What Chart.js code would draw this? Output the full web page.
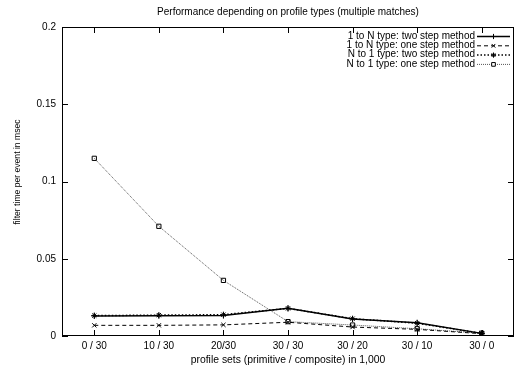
<!DOCTYPE html>
<html lang="en">
<head>
    <meta charset="UTF-8">
    <title>Performance depending on profile types</title>
    <script src="https://cdn.jsdelivr.net/npm/chart.js"></script>
    <style>
        html, body { margin: 0; padding: 0; background: #fff; overflow: hidden; }
        .chart-container { position: relative; width: 529px; height: 367px; }
    </style>
</head>
<body>
    <div class="chart-container">
        <canvas id="perfChart" width="529" height="367"></canvas>
    </div>

    <script>
    // Données
    const categories = ['0 / 30', '10 / 30', '20/30', '30 / 30', '30 / 20', '30 / 10', '30 / 0'];
    const oneToNTwoStep = [0.0130, 0.0131, 0.0132, 0.0179, 0.0110, 0.0086, 0.0017];
    const oneToNOneStep = [0.0069, 0.0069, 0.0072, 0.0089, 0.0058, 0.0043, 0.0015];
    const nToOneTwoStep = [0.0132, 0.0135, 0.0138, 0.0179, 0.0112, 0.0083, 0.0017];
    const nToOneOneStep = [0.115, 0.071, 0.036, 0.0093, 0.0071, 0.0047, 0.0018];
    const yTicks = [0, 0.05, 0.1, 0.15, 0.2];
    const yTickLabels = ['0', '0.05', '0.1', '0.15', '0.2'];

    const fontFamily = 'Liberation Sans, Arial, sans-serif';
    const font = { family: fontFamily, size: 10 };

    // Bordure, graduations internes, titres et légende façon gnuplot
    const framePlugin = {
        id: 'frame',
        afterDraw(chart) {
            const ctx = chart.ctx;
            const a = chart.chartArea;
            const sx = chart.scales.x, sy = chart.scales.y;
            ctx.save();
            ctx.strokeStyle = '#000';
            ctx.lineWidth = 1;
            ctx.setLineDash([]);
            ctx.strokeRect(a.left + 0.5, a.top + 0.5, a.right - a.left - 1, a.bottom - a.top - 1);
            ctx.beginPath();
            yTicks.forEach(v => {
                const y = Math.round(sy.getPixelForValue(v)) + 0.5;
                ctx.moveTo(a.left, y); ctx.lineTo(a.left + 6, y);
                ctx.moveTo(a.right, y); ctx.lineTo(a.right - 6, y);
            });
            categories.forEach((c, i) => {
                const x = Math.round(sx.getPixelForValue(i)) + 0.5;
                ctx.moveTo(x, a.bottom); ctx.lineTo(x, a.bottom - 6);
                ctx.moveTo(x, a.top); ctx.lineTo(x, a.top + 6);
            });
            ctx.stroke();

            // titre
            ctx.fillStyle = '#000';
            ctx.font = font.size + 'px ' + fontFamily;
            ctx.textAlign = 'center';
            ctx.textBaseline = 'middle';
            ctx.fillText('Performance depending on profile types (multiple matches)', (a.left + a.right) / 2, 12);

            // titre de l'axe y
            ctx.save();
            ctx.translate(18, 172);
            ctx.rotate(-Math.PI / 2);
            ctx.font = '8.6px ' + fontFamily;
            ctx.fillText('filter time per event in msec', 0, 0);
            ctx.restore();

            // légende
            ctx.font = font.size + 'px ' + fontFamily;
            ctx.textAlign = 'right';
            chart.data.datasets.forEach((ds, i) => {
                const y = 36 + i * 9.3;
                ctx.fillStyle = '#000';
                ctx.fillText(ds.label, a.right - 39, y);
                ctx.save();
                ctx.strokeStyle = ds.borderColor;
                ctx.lineWidth = ds.borderWidth;
                ctx.setLineDash(ds.borderDash || []);
                ctx.beginPath();
                ctx.moveTo(a.right - 37, y + 0.5);
                ctx.lineTo(a.right - 4, y + 0.5);
                ctx.stroke();
                ctx.setLineDash([]);
                ctx.strokeStyle = '#000';
                ctx.fillStyle = '#fff';
                ctx.lineWidth = 1;
                Chart.helpers.drawPoint(ctx, {
                    pointStyle: ds.pointStyle, radius: 2.6, rotation: 0, borderWidth: 1
                }, a.right - 20.5, y + 0.5);
                ctx.restore();
            });
            ctx.restore();
        }
    };

    function serie(label, data, dash, width, color, style) {
        return {
            label: label,
            data: data,
            borderColor: color,
            borderWidth: width,
            borderDash: dash,
            pointStyle: style,
            pointRadius: 3,
            pointBorderColor: '#000',
            pointBackgroundColor: 'rgba(0,0,0,0)',
            pointBorderWidth: 1,
            tension: 0,
            fill: false
        };
    }

    new Chart(document.getElementById('perfChart'), {
        type: 'line',
        data: {
            labels: categories,
            datasets: [
                serie('1 to N type: two step method', oneToNTwoStep, [], 1.5, '#000', 'cross'),
                serie('1 to N type: one step method', oneToNOneStep, [4, 3], 1, '#000', 'crossRot'),
                serie('N to 1 type: two step method', nToOneTwoStep, [1.5, 2], 1.5, '#000', 'star'),
                serie('N to 1 type: one step method', nToOneOneStep, [1, 1], 1, '#555', 'rect')
            ]
        },
        options: {
            responsive: false,
            animation: false,
            layout: { padding: { top: 27, right: 15, left: 0, bottom: 0 } },
            plugins: {
                legend: { display: false },
                tooltip: { enabled: false }
            },
            scales: {
                x: {
                    offset: true,
                    grid: { display: false, drawTicks: false },
                    border: { display: false },
                    ticks: { color: '#000', font: font, padding: 4, maxRotation: 0, autoSkip: false },
                    title: { display: true, text: 'profile sets (primitive / composite) in 1,000', color: '#000', font: { family: fontFamily, size: 10.4 }, padding: { top: 0, bottom: 1 } },
                    afterFit(s) { s.height = 31; }
                },
                y: {
                    min: 0,
                    max: 0.2,
                    afterBuildTicks(s) { s.ticks = yTicks.map(v => ({ value: v })); },
                    grid: { display: false, drawTicks: false },
                    border: { display: false },
                    ticks: {
                        color: '#000', font: font, padding: 6,
                        callback: (v, i) => yTickLabels[i]
                    },
                    afterFit(s) { s.width = 62; }
                }
            }
        },
        plugins: [framePlugin]
    });
    </script>
</body>
</html>
